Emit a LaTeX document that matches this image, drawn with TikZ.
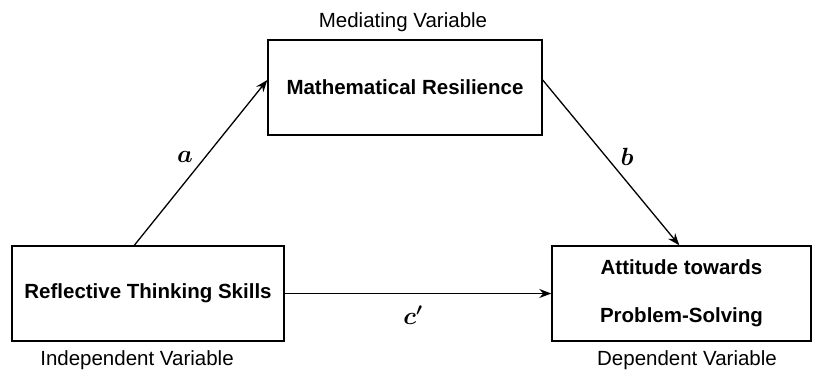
\documentclass[tikz,border=0pt]{standalone}
\usepackage{amssymb, amsmath}
\usepackage{fontspec}
\setmainfont{Liberation Sans}
\usepackage{tikz}
\usetikzlibrary{arrows.meta}

\tikzset{
    varbox/.style={draw, line width=1.4pt, minimum height=95pt, align=center,
        font=\fontsize{20.5}{48}\selectfont\bfseries},
    varlabel/.style={font=\fontsize{20.5}{24}\selectfont},
    pathlabel/.style={font=\fontsize{24}{26}\selectfont},
    link/.style={-{Stealth[length=12pt,width=9pt]}, line width=1.3pt}
}

\begin{document}
\begin{tikzpicture}[x=1pt,y=-1pt]
    \useasboundingbox (0,0) rectangle (813,376);

    % Define nodes
    \node[varbox, minimum width=274pt] (M) at (405,87.5) {Mathematical Resilience};
    \node[varbox, minimum width=272pt] (R) at (148,293.5) {Reflective Thinking Skills};
    \node[varbox, minimum width=259pt] (A) at (681.5,293.5) {Attitude towards\\Problem-Solving};

    \node[varlabel] (ML) at (403,22) {Mediating Variable};
    \node[varlabel] (RL) at (137,360) {Independent Variable};
    \node[varlabel] (AL) at (687,360) {Dependent Variable};

    % Draw arrows
    \draw[link] ([xshift=123pt]R.north west) -- ([yshift=7.5pt]M.west);
    \draw[link] ([yshift=7.5pt]M.east) -- ([xshift=128pt]A.north west);
    \draw[link] (R.east) -- (A.west);

    \node[pathlabel] (pa) at (185,157) {$\boldsymbol{a}$};
    \node[pathlabel] (pb) at (627,157) {$\boldsymbol{b}$};
    \node[pathlabel] (pc) at (413,315) {$\boldsymbol{c'}$};
\end{tikzpicture}
\end{document}
